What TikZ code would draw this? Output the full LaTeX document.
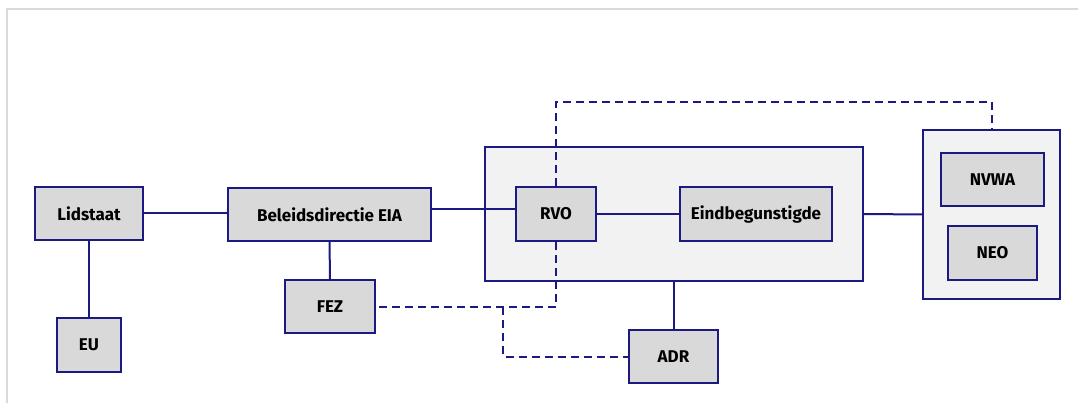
\documentclass[tikz,border=0pt]{standalone}
\usepackage{fontspec}
\setmainfont{Fira Sans}
\definecolor{navy}{RGB}{26,26,128}
\definecolor{boxgray}{RGB}{217,217,217}
\definecolor{contgray}{RGB}{242,242,242}
\definecolor{framegray}{RGB}{217,217,217}
\begin{document}
\begin{tikzpicture}[x=1pt,y=-1pt,
  box/.style={draw=navy, fill=boxgray, line width=1.6pt, inner sep=0pt,
    font=\fontsize{17}{20}\selectfont\bfseries, text=black},
  cont/.style={draw=navy, fill=contgray, line width=1.6pt, inner sep=0pt},
  conn/.style={draw=navy, line width=2pt},
  dconn/.style={draw=navy, line width=2pt, dash pattern=on 8pt off 5pt}]
\useasboundingbox (0,0) rectangle (1078,403);
\draw[framegray, line width=1.2pt] (7,403) -- (7,9) -- (1078,9);
% containers
\node[cont, minimum width=378pt, minimum height=134pt] (grp) at (674,214) {};
\node[cont, minimum width=137pt, minimum height=169pt] (rc) at (991.5,214.5) {};
% boxes
\node[box, minimum width=108pt, minimum height=53pt] (lid) at (89,213.5) {Lidstaat};
\node[box, minimum width=64pt, minimum height=54pt] (eu) at (89,345) {EU};
\node[box, minimum width=203pt, minimum height=53pt] (bel) at (329.5,214.5) {Beleidsdirectie EIA};
\node[box, minimum width=90pt, minimum height=53pt] (fez) at (330,306.5) {FEZ};
\node[box, minimum width=80pt, minimum height=54pt] (rvo) at (556,214) {RVO};
\node[box, minimum width=152pt, minimum height=54pt] (ein) at (756,214) {Eindbegunstigde};
\node[box, minimum width=89pt, minimum height=53pt] (adr) at (673.5,356.5) {ADR};
\node[box, minimum width=103pt, minimum height=53pt] (nvwa) at (992.5,179.5) {NVWA};
\node[box, minimum width=89pt, minimum height=54pt] (neo) at (992.5,253) {NEO};
% helper coordinates
\coordinate (h209) at (0,209);
\coordinate (h213) at (0,213);
\coordinate (top) at (0,102);
\coordinate (jn) at (503,307);
% solid connectors
\draw[conn] (lid.east |- h213) -- (bel.west |- h213);
\draw[conn] (lid) -- (eu);
\draw[conn] (bel) -- (fez);
\draw[conn] (bel.east |- h209) -- (rvo.west |- h209);
\draw[conn] (rvo) -- (ein);
\draw[conn] (grp.east) -- (rc.west);
\draw[conn] (grp.south -| adr.north) -- (adr.north);
% dashed connectors
\draw[dconn] (rvo.north) -- (rvo.north |- top) -| (rc.north);
\draw[dconn] (rvo.south) |- (fez.east);
\draw[dconn] (jn) |- (adr.west);
\end{tikzpicture}
\end{document}
